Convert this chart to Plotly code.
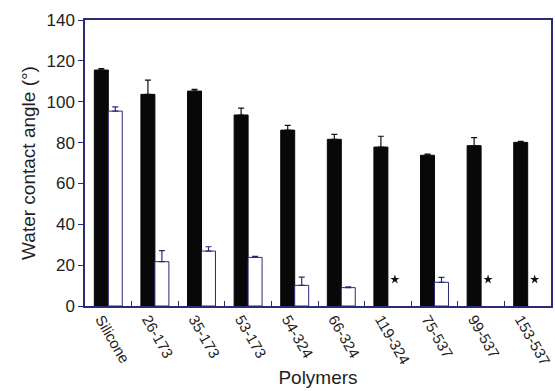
import plotly.graph_objects as go

# Water contact angle per polymer: before (dark) and after (light) treatment
polymers = ["Silicone", "26-173", "35-173", "53-173", "54-324",
            "66-324", "119-324", "75-537", "99-537", "153-537"]
angle_before = [115.5, 103.6, 105.2, 93.5, 86.1, 81.6, 77.8, 73.8, 78.5, 80.1]
err_before = [0.7, 7.0, 0.8, 3.4, 2.3, 2.4, 5.3, 0.5, 3.9, 0.5]
angle_after = [95.4, 21.7, 26.9, 23.8, 10.1, 9.0, None, 11.6, None, None]
err_after = [2.1, 5.4, 2.1, 0.5, 4.0, 0.4, 0, 2.4, 0, 0]

AXIS = "#2a2a78"
TEXT = "#1e1e1e"
STAR_Y = 13  # height of the "not measurable" marker

fig = go.Figure()
fig.add_trace(go.Bar(
    x=polymers, y=angle_before,
    marker=dict(color="#080808", line=dict(color="#080808", width=1)),
    error_y=dict(type="data", symmetric=False, array=err_before,
                 arrayminus=[0] * len(err_before),
                 color="#101010", thickness=1.2, width=3),
    showlegend=False,
))
fig.add_trace(go.Bar(
    x=polymers, y=angle_after,
    marker=dict(color="white", line=dict(color=AXIS, width=1)),
    error_y=dict(type="data", symmetric=False, array=err_after,
                 arrayminus=[0] * len(err_after),
                 color=AXIS, thickness=1.2, width=3),
    showlegend=False,
))

# stars where the treated surface could not be measured
star_x = [i + 0.15 for i, v in enumerate(angle_after) if v is None]
fig.add_trace(go.Scatter(
    x=star_x, y=[STAR_Y] * len(star_x), xaxis="x2", mode="markers",
    marker=dict(symbol="star", size=7, color="#101010"),
    showlegend=False, hoverinfo="skip",
))

fig.update_layout(
    width=555, height=391,
    margin=dict(l=85, r=4, t=20, b=85),
    paper_bgcolor="white", plot_bgcolor="white",
    barmode="group", bargap=0.4, bargroupgap=0,
    font=dict(family="Liberation Sans, Arial, sans-serif", color=TEXT),
    xaxis=dict(
        type="category", showline=True, linecolor=AXIS, linewidth=1.5,
        mirror=True, ticks="inside", tickson="boundaries", ticklen=5,
        tickcolor=AXIS, tickangle=60, showgrid=False, automargin=False,
        tickfont=dict(size=15), ticklabelshift=-7, ticklabelstandoff=-3,
        title=dict(text="Polymers", font=dict(size=19), standoff=4),
    ),
    xaxis2=dict(overlaying="x", range=[-0.5, 9.5], visible=False),
    yaxis=dict(
        range=[0, 140], dtick=20, showline=True, linecolor=AXIS, linewidth=1.5,
        mirror=True, ticks="outside", ticklen=5, tickcolor=AXIS, showgrid=False,
        zeroline=False, automargin=False,
        tickfont=dict(size=17),
        title=dict(text="Water contact angle (°)", font=dict(size=19), standoff=6),
    ),
)

fig.write_html("out.html")
